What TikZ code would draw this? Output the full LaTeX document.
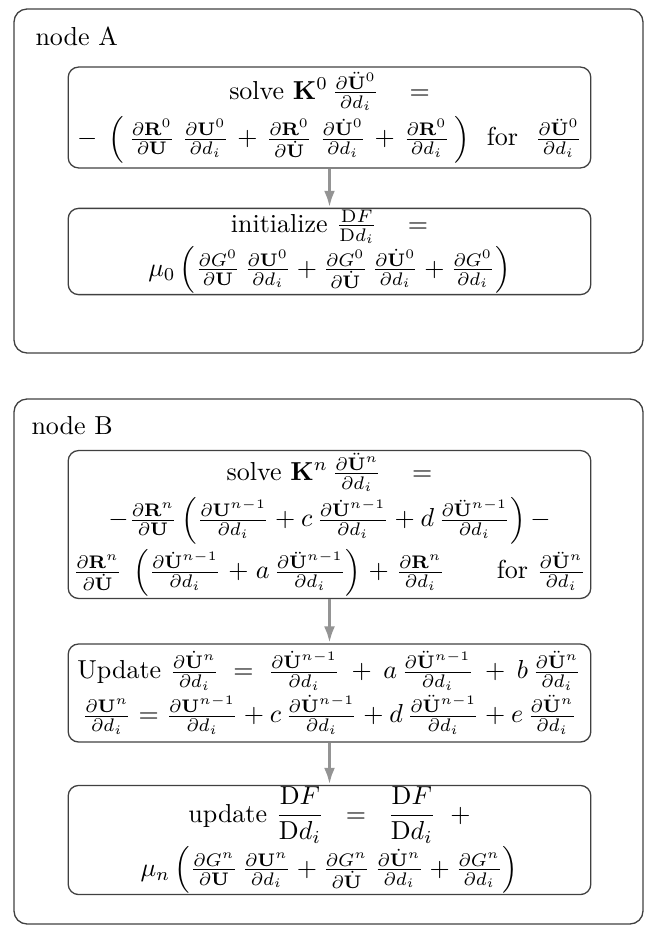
\documentclass[tikz,border=0pt]{standalone}
\usepackage{amsmath}
\usetikzlibrary{arrows.meta}
\newcommand{\pd}[2]{\frac{\partial #1}{\partial #2}}
\newcommand{\Ub}{\mathbf{U}}
\newcommand{\Ud}{\dot{\mathbf{U}}}
\newcommand{\Udd}{\ddot{\mathbf{U}}}
\newcommand{\Rb}{\mathbf{R}}
\newcommand{\eqgap}{\hspace{9pt}}
\begin{document}
\begin{tikzpicture}[x=0.3846pt,y=-0.3846pt,
  outerbox/.style={draw=black!75,line width=0.5pt,rounded corners=5pt},
  innerbox/.style={draw=black!75,line width=0.5pt,rounded corners=4pt,align=center,
     minimum width=201pt,inner sep=1pt},
  flow/.style={draw=black!42,line width=1.5pt,-{Latex[length=6.5pt,width=4.2pt]}},
  lbl/.style={anchor=base west,inner sep=0pt}]
\useasboundingbox (0,0) rectangle (645,926);
\draw[outerbox] (14,9) rectangle (643,353);
\draw[outerbox] (14,399) rectangle (643,924);
\node[lbl] (la) at (35,45) {node A};
\node[lbl] (lb) at (31,434) {node B};
\node[innerbox,minimum height=38.8pt] (a1) at (329.5,117.5) {%
solve $\mathbf{K}^0\,\pd{\Udd^0}{d_i}\eqgap=$\\[1pt]
$\medmuskip=6mu -\;\left(\,\pd{\Rb^0}{\Ub}\;\pd{\Ub^0}{d_i}+\pd{\Rb^0}{\Ud}\;\pd{\Ud^0}{d_i}+\pd{\Rb^0}{d_i}\,\right)$\ \ for\ \ $\pd{\Udd^0}{d_i}$};
\node[innerbox,minimum height=29.6pt,inner sep=0.5pt] (a2) at (329.5,251.5) {%
initialize $\frac{\mathrm{D}F}{\mathrm{D}d_i}\eqgap=$\\[0pt]
$\mu_0\left(\pd{G^0}{\Ub}\,\pd{\Ub^0}{d_i}+\pd{G^0}{\Ud}\,\pd{\Ud^0}{d_i}+\pd{G^0}{d_i}\right)$};
\node[innerbox,minimum height=55.8pt] (b1) at (329.5,524.5) {%
solve $\mathbf{K}^n\,\pd{\Udd^n}{d_i}\eqgap=$\\[1pt]
$-\pd{\Rb^n}{\Ub}\left(\pd{\Ub^{n-1}}{d_i}+c\,\pd{\Ud^{n-1}}{d_i}+d\,\pd{\Udd^{n-1}}{d_i}\right)-$\\[1pt]
$\medmuskip=5mu\pd{\Rb^n}{\Ud}\;\left(\pd{\Ud^{n-1}}{d_i}+a\,\pd{\Udd^{n-1}}{d_i}\right)+\pd{\Rb^n}{d_i}$\qquad for $\pd{\Udd^n}{d_i}$};
\node[innerbox,minimum height=37.7pt] (b2) at (329.5,693) {%
Update $\medmuskip=8mu\pd{\Ud^n}{d_i}\;=\;\pd{\Ud^{n-1}}{d_i}+a\,\pd{\Udd^{n-1}}{d_i}+b\,\pd{\Udd^n}{d_i}$\\[1pt]
$\pd{\Ub^n}{d_i}=\pd{\Ub^{n-1}}{d_i}+c\,\pd{\Ud^{n-1}}{d_i}+d\,\pd{\Udd^{n-1}}{d_i}+e\,\pd{\Udd^n}{d_i}$};
\node[innerbox,minimum height=40.8pt,inner sep=0.5pt] (b3) at (329.5,840) {%
update $\dfrac{\mathrm{D}F}{\mathrm{D}d_i}\;\;=\;\;\dfrac{\mathrm{D}F}{\mathrm{D}d_i}\;\;+$\\[0pt]
$\mu_n\left(\pd{G^n}{\Ub}\,\pd{\Ub^n}{d_i}+\pd{G^n}{\Ud}\,\pd{\Ud^n}{d_i}+\pd{G^n}{d_i}\right)$};
\draw[flow] (a1) -- (a2);
\draw[flow] (b1) -- (b2);
\draw[flow] (b2) -- (b3);
\end{tikzpicture}
\end{document}
